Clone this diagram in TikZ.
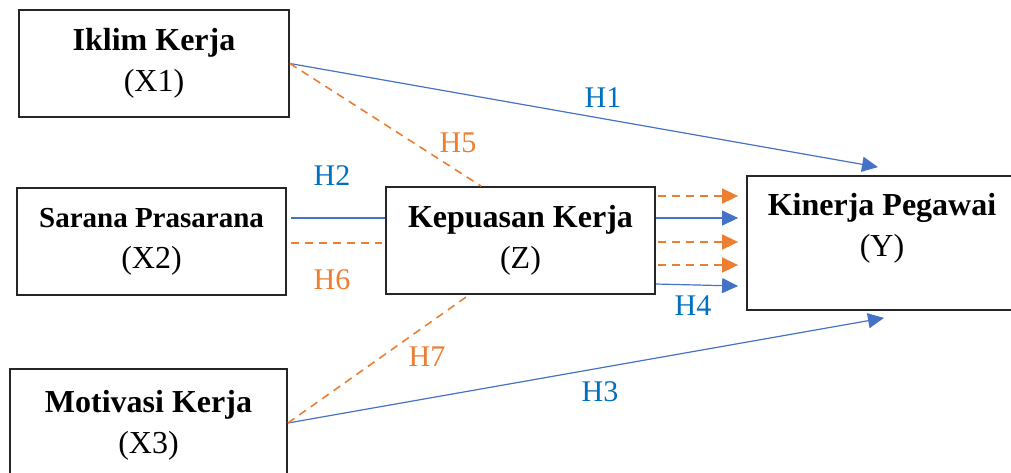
\documentclass[tikz,border=0pt]{standalone}
\usepackage{fontspec}
\setmainfont{Liberation Serif}
\usetikzlibrary{arrows.meta, positioning, calc}
\definecolor{hblue}{RGB}{68,114,196}
\definecolor{hlabblue}{RGB}{0,112,192}
\definecolor{horange}{RGB}{237,125,49}

\begin{document}
\begin{tikzpicture}[x=0.5pt, y=-0.5pt,
    box/.style={draw=black!85, line width=0.9pt, align=center, inner sep=0pt,
        minimum width=135pt, minimum height=53.5pt,
        font=\fontsize{16}{20.5}\selectfont},
    hsolid/.style={draw=hblue, line width=0.6pt},
    hdash/.style={draw=horange, line width=0.8pt, dash pattern=on 4pt off 3pt},
    tip/.style={-{Triangle[length=8pt, width=7.5pt]}},
    hlab/.style={font=\fontsize{15}{18}\selectfont}]
    \useasboundingbox (0,0) rectangle (1011,472);

    % variables
    \node[box] (X1) at (154,63.5) {\textbf{Iklim Kerja}\\(X1)};
    \node[box, minimum width=134.5pt] (X2) at (151.5,241.5)
        {{\fontsize{14.5}{18.5}\selectfont\textbf{Sarana Prasarana}}\\(X2)};
    \node[box, minimum width=138.5pt, minimum height=56pt] (X3) at (148.5,425)
        {\textbf{Motivasi Kerja}\\(X3)};
    \node[box, minimum width=134.5pt] (Z) at (520.5,240.5) {\textbf{Kepuasan Kerja}\\(Z)};
    \node[box, minimum width=142pt, minimum height=67pt] (Y) at (889,243) {};
    \node[align=center, font=\fontsize{16}{20.5}\selectfont] (Ytext) at (882,228)
        {\textbf{Kinerja Pegawai}\\(Y)};

    % direct paths
    \draw[hsolid, tip] (X1.east) -- ($(Y.north)+(-11,-8)$);
    \draw[hsolid] ($(X2.east)+(4,-23.5)$) -- ($(Z.west)+(0,-22.5)$);
    \draw[hsolid, tip] ($(X3.east)+(0,-2)$) -- ($(Y.south)+(-5,7)$);
    \draw[hsolid, tip] ($(Z.east)+(0,-22.5)$) -- ($(Y.west)+(-8,-25)$);
    \draw[hsolid, tip] ($(Z.east)+(0,43.5)$) -- ($(Y.west)+(-8,43)$);

    % mediated paths
    \draw[hdash] (X1.east) -- ($(Z.north west)+(96,0)$);
    \draw[hdash] ($(X2.east)+(4,1.5)$) -- ($(Z.west)+(-3,2.5)$);
    \draw[hdash] ($(X3.east)+(0,-2)$) -- ($(Z.south west)+(84,0)$);
    \foreach \dy in {-44.5, 1.5, 24.5}
        \draw[hdash, tip] ($(Z.east)+(2,\dy)$) -- ($(Y.west)+(-8,\dy-2.5)$);

    % hypotheses
    \node[hlab, text=hlabblue] (h1) at (603,98) {H1};
    \node[hlab, text=hlabblue] (h2) at (332,176) {H2};
    \node[hlab, text=hlabblue] (h3) at (600,392) {H3};
    \node[hlab, text=hlabblue] (h4) at (693,306) {H4};
    \node[hlab, text=horange] (h5) at (458,143) {H5};
    \node[hlab, text=horange] (h6) at (332,280) {H6};
    \node[hlab, text=horange] (h7) at (427,357) {H7};
\end{tikzpicture}
\end{document}
